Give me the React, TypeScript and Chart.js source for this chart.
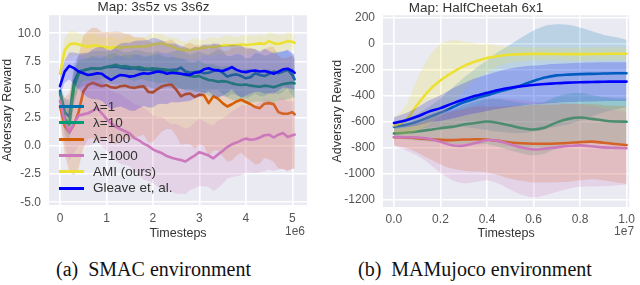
import React, { useEffect, useRef } from 'react';
import { Chart, registerables } from 'chart.js';

Chart.register(...registerables);

// ---------------- Shared ----------------
const SERIES_NAMES = ['λ=1', 'λ=10', 'λ=100', 'λ=1000', 'AMI (ours)', 'Gleave et, al.'];
const SERIES_COLORS = ['#0173B2', '#029E73', '#D55E00', '#CC78BC', '#ECE133', '#0000FF'];

// ---------------- SMAC (left) : timesteps in units of 1e6 ----------------
const SMAC_TITLE = 'Map: 3s5z vs 3s6z';
const SMAC_T = [
  0, 0.1, 0.2, 0.3, 0.4, 0.5, 0.6, 0.7, 0.8, 0.9,
  1.0, 1.1, 1.2, 1.3, 1.4, 1.5, 1.6, 1.7, 1.8, 1.9,
  2.0, 2.1, 2.2, 2.3, 2.4, 2.5, 2.6, 2.7, 2.8, 2.9,
  3.0, 3.1, 3.2, 3.3, 3.4, 3.5, 3.6, 3.7, 3.8, 3.9,
  4.0, 4.1, 4.2, 4.3, 4.4, 4.5, 4.6, 4.7, 4.8, 4.9,
  5.0, 5.05,
];
const SMAC_L1 = [
  4.9, 3.0, 2.6, 5.6, 6.6, 6.7, 6.8, 6.9, 6.85, 6.9,
  7.0, 7.0, 7.05, 6.95, 6.9, 6.85, 6.9, 6.8, 6.75, 6.8,
  6.7, 6.75, 6.65, 6.7, 6.75, 6.75, 6.95, 6.6, 6.5, 6.55,
  6.6, 6.45, 6.5, 6.65, 6.75, 6.5, 6.15, 6.3, 6.35, 6.2,
  6.0, 6.1, 6.45, 6.3, 6.2, 6.4, 6.6, 6.45, 6.6, 6.75,
  6.3, 5.9,
];
const SMAC_L1_SD = [
  0.5, 1.2, 1.5, 1.6, 1.5, 1.4, 1.4, 1.5, 1.6, 1.5,
  1.4, 1.5, 1.6, 1.5, 1.4, 1.5, 1.6, 1.7, 1.6, 1.5,
  1.6, 1.7, 1.6, 1.5, 1.6, 1.7, 1.8, 1.7, 1.6, 1.7,
  1.8, 1.7, 1.6, 1.7, 1.8, 1.9, 1.8, 1.7, 1.8, 1.9,
  1.8, 1.7, 1.8, 1.9, 1.8, 1.7, 1.8, 1.9, 1.8, 1.7,
  1.8, 1.8,
];
const SMAC_L10 = [
  4.7, 2.4, 1.9, 5.2, 6.4, 6.7, 6.8, 6.9, 6.85, 6.9,
  7.0, 7.1, 7.2, 7.05, 7.1, 7.0, 6.95, 7.0, 6.9, 6.85,
  6.9, 6.85, 6.8, 6.75, 6.7, 6.6, 6.4, 6.3, 6.2, 6.15,
  6.2, 6.0, 5.85, 5.8, 5.7, 5.75, 5.7, 5.55, 5.45, 5.4,
  5.45, 5.35, 5.3, 5.25, 5.35, 5.3, 5.2, 5.35, 5.5, 5.55,
  5.6, 5.55,
];
const SMAC_L10_SD = [
  0.5, 1.3, 1.6, 1.5, 1.2, 1.0, 1.0, 1.1, 1.0, 0.9,
  1.0, 1.1, 1.0, 0.9, 1.0, 1.1, 1.2, 1.1, 1.0, 1.1,
  1.2, 1.3, 1.2, 1.1, 1.2, 1.3, 1.4, 1.3, 1.2, 1.3,
  1.4, 1.3, 1.4, 1.5, 1.4, 1.3, 1.4, 1.5, 1.4, 1.3,
  1.4, 1.5, 1.4, 1.3, 1.4, 1.5, 1.4, 1.3, 1.4, 1.4,
  1.3, 1.3,
];
const SMAC_L100 = [
  3.5, 1.8, 1.2, 1.9, 3.0, 4.8, 5.4, 5.6, 5.45, 5.3,
  5.4, 5.2, 5.15, 5.3, 5.35, 5.2, 5.15, 5.25, 5.3, 4.8,
  4.75, 5.05, 5.3, 5.4, 5.45, 5.0, 4.4, 4.6, 4.65, 4.35,
  4.55, 4.5, 3.8, 4.4, 4.2, 3.8, 3.5, 3.7, 3.95, 4.1,
  3.9, 3.7, 3.45, 3.35, 3.75, 3.8, 3.7, 3.0, 2.85, 2.85,
  3.0, 2.8,
];
const SMAC_L100_SD = [
  1.0, 2.5, 3.5, 4.5, 5.0, 5.0, 4.8, 4.9, 5.0, 4.8,
  4.7, 4.9, 5.0, 4.8, 4.6, 4.7, 4.5, 4.4, 4.3, 4.5,
  4.4, 4.2, 4.0, 3.9, 4.0, 4.1, 4.3, 4.4, 4.5, 4.6,
  4.4, 4.5, 4.7, 4.8, 4.6, 4.7, 4.9, 5.0, 4.8, 4.7,
  4.9, 5.0, 5.1, 4.9, 4.8, 5.0, 5.1, 5.0, 4.9, 5.0,
  5.0, 4.9,
];
const SMAC_L1000 = [
  4.0, 2.2, 1.2, 2.0, 2.7, 2.8, 2.9, 3.1, 3.35, 2.9,
  2.4, 2.0, 1.7, 1.5, 1.3, 1.1, 0.7, 0.5, 0.2, 0.0,
  -0.3, -0.5, -0.65, -0.9, -1.05, -1.15, -1.25, -1.38, -1.1, -0.85,
  -0.55, -0.7, -0.85, -1.1, -0.75, -0.45, -0.1, 0.15, 0.3, 0.5,
  0.65, 0.55, 0.6, 0.75, 0.95, 1.0, 0.75, 1.0, 1.15, 0.8,
  0.95, 1.0,
];
const SMAC_L1000_SD = [
  1.0, 2.0, 2.5, 2.6, 2.7, 2.8, 2.9, 3.0, 3.0, 2.9,
  2.8, 2.9, 3.0, 3.1, 3.0, 2.9, 3.0, 3.1, 3.2, 3.1,
  3.0, 3.1, 3.2, 3.1, 3.0, 3.1, 3.0, 2.9, 2.8, 2.9,
  3.0, 2.9, 2.8, 2.9, 3.0, 2.9, 2.8, 2.9, 3.0, 3.1,
  3.0, 2.9, 3.0, 3.1, 3.2, 3.1, 3.0, 3.1, 3.2, 3.1,
  3.0, 3.0,
];
const SMAC_AMI = [
  6.4, 8.5, 9.0, 9.1, 9.0, 8.9, 8.8, 8.9, 8.9, 8.8,
  8.75, 8.7, 8.8, 8.7, 8.8, 8.75, 8.8, 8.85, 8.8, 8.9,
  9.0, 9.05, 9.1, 8.95, 8.85, 8.65, 8.55, 8.5, 8.5, 8.6,
  8.65, 8.7, 8.8, 8.75, 8.85, 8.9, 8.95, 8.9, 8.95, 9.0,
  8.95, 9.0, 9.05, 9.1, 9.05, 9.3, 9.1, 9.05, 9.15, 9.3,
  9.25, 9.15,
];
const SMAC_AMI_SD = [
  0.6, 1.0, 1.2, 1.1, 1.0, 0.9, 1.0, 1.1, 0.9, 0.8,
  0.9, 1.0, 0.8, 0.7, 0.9, 1.0, 0.8, 0.7, 0.8, 0.9,
  1.0, 0.9, 0.8, 0.7, 0.8, 0.9, 0.8, 0.7, 0.9, 1.0,
  0.8, 0.7, 0.8, 0.9, 0.7, 0.8, 0.9, 0.8, 0.7, 0.8,
  0.9, 0.8, 0.7, 0.8, 0.7, 0.8, 0.9, 0.8, 0.7, 0.8,
  0.7, 0.7,
];
const SMAC_GLEAVE = [
  5.3, 6.6, 7.1, 6.9, 6.6, 6.45, 6.3, 6.35, 6.45, 6.4,
  6.1, 5.85, 6.1, 6.3, 6.25, 6.15, 6.2, 6.35, 6.45, 6.4,
  6.5, 6.6, 6.55, 6.4, 6.5, 6.45, 6.4, 6.35, 6.3, 6.5,
  6.55, 6.8, 6.9, 6.75, 6.7, 6.65, 6.8, 7.0, 6.75, 6.6,
  6.55, 6.65, 6.7, 6.6, 6.65, 6.55, 6.4, 6.6, 6.8, 6.85,
  6.65, 6.5,
];
const SMAC_GLEAVE_SD = [
  0.8, 1.0, 1.2, 1.4, 1.6, 1.8, 2.0, 2.2, 2.3, 2.4,
  2.5, 2.6, 2.7, 2.8, 2.9, 3.0, 3.1, 3.0, 2.9, 3.0,
  3.1, 2.9, 2.8, 2.7, 2.6, 2.6, 2.5, 2.4, 2.3, 2.3,
  2.2, 2.2, 2.1, 2.3, 2.4, 2.2, 2.1, 2.0, 2.2, 2.3,
  2.1, 2.0, 1.9, 1.8, 2.0, 1.9, 1.8, 1.7, 1.6, 1.7,
  1.6, 1.6,
];
const SMAC_X_TICKS = [0, 1, 2, 3, 4, 5];
const SMAC_Y_TICKS = [-5, -2.5, 0, 2.5, 5, 7.5, 10];

// ---------------- MAMujoco (right) : timesteps in units of 1e7 ----------------
const MUJ_TITLE = 'Map: HalfCheetah 6x1';
const MUJ_T = [0, 0.05, 0.1, 0.15, 0.2, 0.25, 0.3, 0.35, 0.4, 0.45, 0.5, 0.55, 0.6, 0.65, 0.7, 0.75, 0.8, 0.85, 0.9, 0.95, 1.0];
const MUJ_L1 = [-640, -625, -600, -565, -530, -490, -450, -420, -395, -368, -345, -318, -285, -258, -242, -236, -232, -230, -228, -226, -226];
const MUJ_L1_SD = [40, 50, 60, 80, 110, 150, 190, 230, 270, 310, 340, 370, 390, 400, 395, 385, 360, 330, 300, 280, 260];
const MUJ_L10 = [-690, -685, -675, -663, -650, -640, -622, -610, -598, -610, -630, -650, -660, -645, -605, -578, -568, -578, -590, -598, -600];
const MUJ_L10_SD = [40, 50, 70, 90, 110, 130, 150, 165, 175, 185, 190, 195, 200, 200, 200, 195, 190, 185, 180, 180, 180];
const MUJ_L100 = [-720, -722, -727, -735, -740, -742, -738, -735, -737, -748, -760, -767, -770, -770, -768, -764, -758, -754, -762, -772, -780];
const MUJ_L100_SD = [60, 80, 110, 150, 190, 220, 240, 250, 255, 265, 280, 290, 300, 300, 300, 300, 295, 290, 290, 295, 300];
const MUJ_L1000 = [-718, -720, -722, -732, -755, -782, -785, -765, -742, -750, -775, -800, -815, -808, -798, -788, -783, -790, -798, -802, -805];
const MUJ_L1000_SD = [70, 100, 140, 190, 240, 270, 290, 300, 310, 330, 350, 365, 370, 360, 345, 330, 320, 310, 300, 290, 280];
const MUJ_AMI = [-630, -590, -470, -360, -280, -220, -170, -135, -108, -92, -83, -78, -76, -76, -77, -78, -78, -77, -76, -75, -75];
const MUJ_AMI_SD = [60, 110, 200, 260, 280, 250, 190, 140, 110, 80, 60, 55, 50, 50, 50, 50, 50, 50, 50, 50, 50];
const MUJ_GLEAVE = [-610, -590, -560, -522, -495, -460, -428, -400, -377, -355, -338, -325, -316, -309, -303, -298, -295, -293, -291, -290, -290];
const MUJ_GLEAVE_SD = [45, 55, 70, 85, 100, 115, 125, 135, 140, 145, 150, 150, 150, 150, 150, 150, 150, 150, 150, 150, 150];
const MUJ_X_TICKS = [0, 0.2, 0.4, 0.6, 0.8, 1.0];
const MUJ_Y_TICKS = [-1200, -1000, -800, -600, -400, -200, 0, 200];

const FONT = '"Liberation Sans", Arial, "DejaVu Sans", sans-serif';

function rgba(hex: string, a: number) {
  const n = parseInt(hex.slice(1), 16);
  return `rgba(${(n >> 16) & 255},${(n >> 8) & 255},${n & 255},${a})`;
}

function buildDatasets(t: number[], means: number[][], sds: number[][], tension: number) {
  const ds: any[] = [];
  let order = 1000;
  means.forEach((m, k) => {
    const c = SERIES_COLORS[k];
    const sd = sds[k];
    ds.push({
      data: t.map((x, i) => ({ x, y: m[i] - sd[i] })),
      borderWidth: 0, borderColor: 'rgba(0,0,0,0)', pointRadius: 0, fill: false, order: order--, tension,
    });
    ds.push({
      data: t.map((x, i) => ({ x, y: m[i] + sd[i] })),
      borderWidth: 0, borderColor: 'rgba(0,0,0,0)', pointRadius: 0, fill: '-1',
      backgroundColor: rgba(c, 0.2), order: order--, tension,
    });
    ds.push({
      label: SERIES_NAMES[k],
      data: t.map((x, i) => ({ x, y: m[i] })),
      borderColor: c, borderWidth: 2.6, pointRadius: 0, fill: false, order: order--, tension,
      borderJoinStyle: 'round', borderCapStyle: 'round',
    });
  });
  return ds;
}

const bgPlugin = {
  id: 'plotBg',
  beforeDraw(chart: any) {
    const { ctx, chartArea } = chart;
    ctx.save();
    ctx.fillStyle = '#EAEAF2';
    ctx.fillRect(chartArea.left, chartArea.top, chartArea.right - chartArea.left, chartArea.bottom - chartArea.top);
    ctx.restore();
  },
};

interface PanelCfg {
  title: string;
  titleLH: number;
  t: number[];
  means: number[][];
  sds: number[][];
  xTicks: number[];
  yTicks: number[];
  xFmt: (v: number) => string;
  yFmt: (v: number) => string;
  xMin: number; xMax: number; yMin: number; yMax: number;
  yWidth: number; xHeight: number; padRight: number;
  yTitlePad: number; xTickPad: number;
  offsetText: string; offsetDX: number;
  tension: number;
}

function makeChart(canvas: HTMLCanvasElement, p: PanelCfg) {
  const offsetPlugin = {
    id: 'offsetText',
    afterDraw(chart: any) {
      const { ctx, chartArea } = chart;
      ctx.save();
      ctx.font = `12px ${FONT}`;
      ctx.fillStyle = '#555';
      ctx.textAlign = 'right';
      ctx.textBaseline = 'middle';
      ctx.fillText(p.offsetText, chartArea.right + p.offsetDX, 232);
      ctx.restore();
    },
  };
  return new Chart(canvas, {
    type: 'line',
    data: { datasets: buildDatasets(p.t, p.means, p.sds, p.tension) },
    plugins: [bgPlugin, offsetPlugin],
    options: {
      animation: false,
      responsive: false,
      maintainAspectRatio: false,
      layout: { padding: { left: 0, right: p.padRight, top: 0, bottom: 0 } },
      plugins: {
        legend: { display: false },
        tooltip: { enabled: false },
        title: {
          display: true,
          text: p.title,
          color: '#333',
          font: { family: FONT, size: 13.5, weight: 'normal', lineHeight: `${p.titleLH}px` },
          padding: { top: 0, bottom: 0 },
        },
      },
      scales: {
        x: {
          type: 'linear',
          min: p.xMin,
          max: p.xMax,
          border: { display: false },
          grid: { color: '#ffffff', lineWidth: 1.6, drawTicks: false },
          afterBuildTicks: (s: any) => { s.ticks = p.xTicks.map((v) => ({ value: v })); },
          afterFit: (s: any) => { s.height = p.xHeight; },
          ticks: {
            color: '#555', font: { family: FONT, size: 12 }, padding: p.xTickPad,
            maxRotation: 0, autoSkip: false, callback: (v: any) => p.xFmt(Number(v)),
          },
          title: {
            display: true, text: 'Timesteps', color: '#333',
            font: { family: FONT, size: 12.5, lineHeight: 1.2 }, padding: { top: 0, bottom: 3.5 },
          },
        },
        y: {
          type: 'linear',
          min: p.yMin,
          max: p.yMax,
          border: { display: false },
          grid: { color: '#ffffff', lineWidth: 1.6, drawTicks: false },
          afterBuildTicks: (s: any) => { s.ticks = p.yTicks.map((v) => ({ value: v })); },
          afterFit: (s: any) => { s.width = p.yWidth; },
          ticks: {
            color: '#555', font: { family: FONT, size: 12 }, padding: 8,
            autoSkip: false, callback: (v: any) => p.yFmt(Number(v)),
          },
          title: {
            display: true, text: 'Adversary Reward', color: '#333',
            font: { family: FONT, size: 12.5, lineHeight: 1.2 }, padding: { top: p.yTitlePad, bottom: 0 },
          },
        },
      },
    } as any,
  });
}

const LEFT: PanelCfg = {
  title: SMAC_TITLE,
  titleLH: 15,
  t: SMAC_T,
  means: [SMAC_L1, SMAC_L10, SMAC_L100, SMAC_L1000, SMAC_AMI, SMAC_GLEAVE],
  sds: [SMAC_L1_SD, SMAC_L10_SD, SMAC_L100_SD, SMAC_L1000_SD, SMAC_AMI_SD, SMAC_GLEAVE_SD],
  xTicks: SMAC_X_TICKS,
  yTicks: SMAC_Y_TICKS,
  xFmt: (v) => String(v),
  yFmt: (v) => v.toFixed(1),
  xMin: -0.237, xMax: 5.316, yMin: -5.24, yMax: 11.6,
  yWidth: 49, xHeight: 40, padRight: 13,
  yTitlePad: 0.5, xTickPad: 6,
  offsetText: '1e6', offsetDX: -2,
  tension: 0,
};

const RIGHT: PanelCfg = {
  title: MUJ_TITLE,
  titleLH: 13,
  t: MUJ_T,
  means: [MUJ_L1, MUJ_L10, MUJ_L100, MUJ_L1000, MUJ_AMI, MUJ_GLEAVE],
  sds: [MUJ_L1_SD, MUJ_L10_SD, MUJ_L100_SD, MUJ_L1000_SD, MUJ_AMI_SD, MUJ_GLEAVE_SD],
  xTicks: MUJ_X_TICKS,
  yTicks: MUJ_Y_TICKS,
  xFmt: (v) => v.toFixed(1),
  yFmt: (v) => String(v),
  xMin: -0.047, xMax: 1.011, yMin: -1259, yMax: 223,
  yWidth: 63, xHeight: 38, padRight: 8,
  yTitlePad: 10.5, xTickPad: 5,
  offsetText: '1e7', offsetDX: 5,
  tension: 0.3,
};

function Panel({ cfg, left }: { cfg: PanelCfg; left: number }) {
  const ref = useRef<HTMLCanvasElement>(null);
  useEffect(() => {
    if (!ref.current) return;
    const chart = makeChart(ref.current, cfg);
    return () => chart.destroy();
  }, [cfg]);
  return (
    <canvas
      ref={ref}
      width={320}
      height={245}
      style={{ position: 'absolute', left, top: 0, width: 320, height: 245 }}
    />
  );
}

function Legend() {
  return (
    <div style={{ position: 'absolute', left: 59, top: 98.5 }}>
      {SERIES_NAMES.map((name, i) => (
        <div key={name} style={{ display: 'flex', alignItems: 'center', height: 16.3 }}>
          <div style={{ width: 25, height: 3, background: SERIES_COLORS[i] }} />
          <div
            style={{
              marginLeft: 9,
              font: `13.5px ${FONT}`,
              color: '#333',
              lineHeight: '16px',
              whiteSpace: 'pre',
            }}
          >
            {name}
          </div>
        </div>
      ))}
    </div>
  );
}

const CAPTION_FONT = '20px "Liberation Serif", "Times New Roman", serif';

export default function App() {
  return (
    <div
      style={{
        position: 'absolute', left: 0, top: 0, width: 640, height: 285,
        background: '#ffffff', overflow: 'hidden',
      }}
    >
      <Panel cfg={LEFT} left={0} />
      <Panel cfg={RIGHT} left={320} />
      <Legend />
      <div style={{ position: 'absolute', left: 56, top: 258, font: CAPTION_FONT, color: '#111', whiteSpace: 'pre' }}>
        {'(a)  SMAC environment'}
      </div>
      <div style={{ position: 'absolute', left: 358, top: 258, font: CAPTION_FONT, color: '#111', whiteSpace: 'pre' }}>
        {'(b)  MAMujoco environment'}
      </div>
    </div>
  );
}
